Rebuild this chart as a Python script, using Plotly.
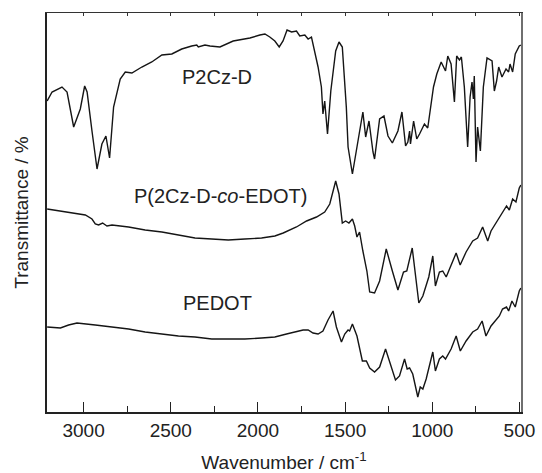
import plotly.graph_objects as go

# FTIR spectra: wavenumber (cm^-1) and transmittance (arbitrary offset units)
p2czd_wn = [3209, 3181, 3124, 3095, 3057, 3029, 3019, 2994, 2980, 2952, 2923, 2895, 2872, 2851,
            2828, 2790, 2761, 2723, 2666, 2609, 2551, 2494, 2437, 2380, 2351, 2342, 2304, 2275,
            2218, 2142, 2046, 1989, 1960, 1932, 1903, 1878, 1856, 1833, 1807, 1779, 1760, 1731,
            1712, 1693, 1674, 1655, 1636, 1627, 1617, 1601, 1582, 1554, 1535, 1516, 1493, 1483,
            1458, 1439, 1398, 1382, 1363, 1340, 1331, 1302, 1277, 1254, 1229, 1197, 1174, 1153,
            1140, 1130, 1125, 1107, 1089, 1073, 1045, 1026, 1012, 993, 974, 949, 924, 911, 892,
            873, 860, 844, 833, 816, 797, 783, 772, 764, 759, 749, 740, 724, 707, 686, 657, 644,
            631, 619, 600, 577, 562, 554, 539, 524, 501, 492]
p2czd_t = [311, 320, 325, 320, 285, 300, 303, 326, 320, 281, 243, 268, 276, 254,
           305, 333, 340, 339, 345, 350, 357, 358, 363, 366, 367, 365, 367, 366,
           365, 371, 374, 377, 378, 375, 371, 365, 371, 382, 380, 381, 376, 377,
           373, 375, 360, 345, 325, 298, 311, 278, 321, 361, 370, 365, 305, 265,
           238, 258, 300, 275, 291, 260, 253, 293, 296, 276, 269, 281, 300, 266,
           270, 281, 268, 291, 273, 278, 288, 284, 301, 325, 338, 350, 341, 356, 348,
           310, 356, 352, 355, 325, 265, 315, 330, 313, 336, 250, 285, 261, 325, 354, 351, 321,
           331, 345, 335, 343, 340, 348, 340, 358, 366, 367]

copoly_wn = [3209, 3105, 2990, 2952, 2933, 2914, 2891, 2866, 2837, 2742, 2647, 2551, 2456, 2380,
             2361, 2265, 2170, 2075, 1979, 1903, 1855, 1779, 1721, 1664, 1617, 1588, 1569, 1554,
             1535, 1516, 1497, 1478, 1458, 1445, 1432, 1417, 1398, 1375, 1359, 1331, 1302, 1264,
             1229, 1197, 1165, 1146, 1115, 1092, 1077, 1054, 1020, 997, 982, 959, 940, 920, 892,
             863, 840, 806, 768, 740, 711, 682, 663, 615, 587, 574, 558, 539, 520, 501, 492]
copoly_t = [203, 200, 197, 193, 188, 187, 189, 186, 187, 185, 182, 180, 177, 175,
            174, 173, 172, 173, 174, 176, 179, 185, 191, 195, 200, 208, 221, 231,
            218, 189, 191, 189, 193, 186, 175, 180, 161, 141, 120, 119, 131, 163,
            141, 122, 140, 141, 164, 131, 109, 116, 135, 156, 126, 140, 141, 135, 146,
            159, 147, 160, 171, 174, 185, 171, 181, 195, 203, 206, 202, 213, 210, 224, 227]

pedot_wn = [3209, 3133, 3086, 3038, 2933, 2837, 2742, 2647, 2551, 2456, 2361, 2265, 2170, 2075,
            1979, 1903, 1836, 1741, 1712, 1684, 1655, 1627, 1598, 1569, 1550, 1521, 1502, 1483,
            1474, 1458, 1432, 1417, 1401, 1378, 1359, 1331, 1302, 1268, 1241, 1211, 1188, 1159,
            1144, 1130, 1112, 1092, 1083, 1069, 1054, 1035, 1012, 997, 982, 959, 940, 924, 892,
            863, 839, 806, 768, 740, 714, 692, 663, 615, 597, 574, 562, 543, 524, 501, 492]
pedot_t = [85, 84, 87, 89, 87, 85, 83, 80, 78, 76, 75, 73, 73, 73,
           74, 75, 78, 82, 82, 79, 78, 81, 92, 101, 85, 70, 78, 82,
           81, 88, 76, 65, 51, 51, 44, 40, 45, 63, 48, 32, 36, 53,
           43, 44, 38, 21, 15, 25, 23, 33, 50, 60, 41, 53, 56, 53, 63,
           76, 61, 71, 80, 83, 91, 76, 86, 96, 103, 105, 101, 111, 105, 121, 124]

labels = ["P2Cz-D", "P(2Cz-D-<i>co</i>-EDOT)", "PEDOT"]
label_wn = [2235, 2215, 2232]
label_t = [335, 216, 109]

x_ticks = [3000, 2500, 2000, 1500, 1000, 500]
x_range = [3210, 491]
y_range = [0, 399]

FONT = "Liberation Sans, Arial, sans-serif"
line_style = dict(color="#151515", width=1.4)

fig = go.Figure()
for wn, t in [(p2czd_wn, p2czd_t), (copoly_wn, copoly_t), (pedot_wn, pedot_t)]:
    fig.add_trace(go.Scatter(x=wn, y=t, mode="lines", line=line_style,
                             showlegend=False, hoverinfo="skip"))

# helper trace so the top/right axes are drawn
fig.add_trace(go.Scatter(x=[x_ticks[0]], y=[None], xaxis="x2", yaxis="y2",
                         mode="lines", showlegend=False, hoverinfo="skip"))

for text, x, y in zip(labels, label_wn, label_t):
    fig.add_annotation(x=x, y=y, text=text, showarrow=False,
                       font=dict(family=FONT, size=20, color="#222"))

fig.update_layout(
    width=542, height=473,
    margin=dict(l=47, r=21, t=13, b=61),
    paper_bgcolor="white", plot_bgcolor="white",
    font=dict(family=FONT, size=19, color="#222"),
    xaxis=dict(
        range=x_range, tickvals=x_ticks, ticks="inside", ticklen=10,
        tickwidth=1.3, tickcolor="#222", ticklabelstandoff=0, automargin=False,
        minor=dict(dtick=250, tick0=0, ticks="inside", ticklen=6, tickwidth=1.2,
                   tickcolor="#222"),
        showline=True, linecolor="#222", linewidth=1.5, showgrid=False, zeroline=False,
        tickfont=dict(size=19),
        title=dict(text="Wavenumber / cm<sup>-1</sup>", font=dict(size=19), standoff=17),
    ),
    xaxis2=dict(
        range=x_range, overlaying="x", side="top", dtick=250, tick0=0,
        ticks="inside", ticklen=3, tickwidth=1.2, tickcolor="#333",
        showticklabels=False, showline=True, linecolor="#333", linewidth=1.3,
        showgrid=False, zeroline=False, automargin=False,
    ),
    yaxis=dict(
        range=y_range, showticklabels=False, ticks="", showgrid=False, zeroline=False,
        showline=True, linecolor="#222", linewidth=1.5, automargin=False,
        title=dict(text="Transmittance / %", font=dict(size=19), standoff=12),
    ),
    yaxis2=dict(
        range=y_range, overlaying="y", side="right", showticklabels=False, ticks="",
        showgrid=False, zeroline=False, showline=True, linecolor="#6f6f6f", linewidth=2.2,
        automargin=False,
    ),
)

fig.write_html("out.html")
